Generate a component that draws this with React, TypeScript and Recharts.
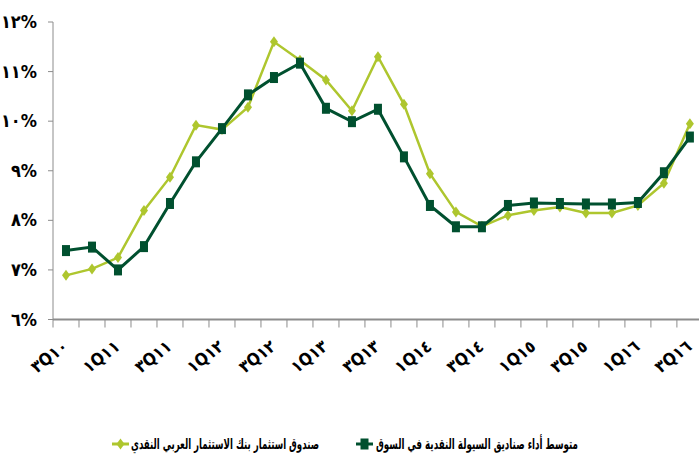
import React from 'react';
import { LineChart, Line, XAxis, YAxis, Legend } from 'recharts';

const quarters = ['٣Q١٠','٤Q١٠','١Q١١','٢Q١١','٣Q١١','٤Q١١','١Q١٢','٢Q١٢','٣Q١٢','٤Q١٢','١Q١٣','٢Q١٣','٣Q١٣','٤Q١٣','١Q١٤','٢Q١٤','٣Q١٤','٤Q١٤','١Q١٥','٢Q١٥','٣Q١٥','٤Q١٥','١Q١٦','٢Q١٦','٣Q١٦'];
const fundValues = [6.89,7.02,7.25,8.20,8.87,9.92,9.83,10.28,11.60,11.23,10.83,10.21,11.30,10.34,8.94,8.17,7.88,8.10,8.20,8.27,8.15,8.15,8.30,8.75,9.95];
const marketValues = [7.39,7.46,7.00,7.47,8.34,9.18,9.85,10.53,10.88,11.17,10.26,9.99,10.24,9.28,8.30,7.87,7.87,8.30,8.35,8.34,8.33,8.33,8.36,8.96,9.68];
const yTicks = [6,7,8,9,10,11,12];
const yTickLabels = ['٦%','٧%','٨%','٩%','١٠%','١١%','١٢%'];
const fundName = 'صندوق استثمار بنك الاستثمار العربي النقدي';
const marketName = 'متوسط أداء صناديق السيولة النقدية في السوق';

const DARK = '#00502F';
const LIGHT = '#AEC62E';
const AXIS = '#8C8C8C';
const FONT = '"Liberation Sans Narrow", "DejaVu Sans Condensed", "DejaVu Sans", sans-serif';

const data = quarters.map((q, i) => ({ i, q, fund: fundValues[i], market: marketValues[i] }));

const xTicks: number[] = [];
for (let k = 0; k < quarters.length; k++) {
  xTicks.push(k - 0.5);
  if (k % 2 === 0) xTicks.push(k);
}

const XTick = (props: any) => {
  const { x, y, payload } = props;
  const v = payload.value;
  if (!Number.isInteger(v)) {
    return <line x1={x} x2={x} y1={y} y2={y + 8} stroke={AXIS} strokeWidth={1} />;
  }
  const ax = x + 3;
  const ay = y + 29;
  return (
    <text x={ax} y={ay} transform={`rotate(-38 ${ax} ${ay})`} textAnchor="end"
      fontFamily={FONT} fontWeight="bold" fontSize={17} fill="#000">
      {quarters[v]}
    </text>
  );
};

const YTick = (props: any) => {
  const { x, y, payload } = props;
  const idx = yTicks.indexOf(payload.value);
  return (
    <text x={x} y={y + 6} textAnchor="end" fontFamily={FONT} fontWeight="bold" fontSize={18} fill="#000">
      {yTickLabels[idx]}
    </text>
  );
};

const SquareDot = (props: any) => {
  const { cx, cy } = props;
  if (cx == null || cy == null) return null;
  return <rect x={cx - 4} y={cy - 5.5} width={8} height={11} fill={DARK} />;
};

const DiamondDot = (props: any) => {
  const { cx, cy } = props;
  if (cx == null || cy == null) return null;
  return <path d={`M${cx},${cy - 5.5} L${cx + 4},${cy} L${cx},${cy + 5.5} L${cx - 4},${cy} Z`} fill={LIGHT} />;
};

const LegendContent = () => (
  <svg width={699} height={24} style={{ display: 'block' }}>
    <line x1={112} x2={129} y1={11} y2={11} stroke={LIGHT} strokeWidth={3} />
    <path d="M120.5,5.5 L124.5,11 L120.5,16.5 L116.5,11 Z" fill={LIGHT} />
    <text x={131} y={0} transform="translate(0 16) scale(1 1.35)" textLength={188} lengthAdjust="spacingAndGlyphs"
      fontFamily="'DejaVu Sans', sans-serif" fontWeight="bold" fontSize={11} fill="#000">{fundName}</text>
    <line x1={356} x2={373} y1={11} y2={11} stroke={DARK} strokeWidth={3} />
    <rect x={360.5} y={5.5} width={8} height={11} fill={DARK} />
    <text x={376} y={0} transform="translate(0 16) scale(1 1.35)" textLength={202} lengthAdjust="spacingAndGlyphs"
      fontFamily="'DejaVu Sans', sans-serif" fontWeight="bold" fontSize={11} fill="#000">{marketName}</text>
  </svg>
);

export default function App() {
  return (
    <div style={{ position: 'absolute', left: 0, top: 0, width: 699, height: 464, background: '#fff' }}>
      <LineChart width={699} height={464} data={data} margin={{ top: 22, right: 0, bottom: 0, left: 0 }}>
        <XAxis
          dataKey="i"
          type="number"
          domain={[-0.5, 24.35]}
          allowDataOverflow
          ticks={xTicks}
          interval={0}
          tick={<XTick />}
          tickLine={false}
          tickSize={0}
          tickMargin={0}
          axisLine={{ stroke: AXIS, strokeWidth: 2 }}
          height={144.5}
        />
        <YAxis
          type="number"
          domain={[6, 12]}
          ticks={yTicks}
          interval={0}
          width={53}
          tick={<YTick />}
          tickSize={5}
          tickMargin={11}
          tickLine={{ stroke: AXIS }}
          axisLine={{ stroke: AXIS, strokeWidth: 1 }}
        />
        <Legend
          verticalAlign="middle"
          layout="horizontal"
          align="center"
          wrapperStyle={{ position: 'absolute', top: 433, left: 0, width: 699, height: 24 }}
          content={<LegendContent />}
        />
        <Line dataKey="fund" name={fundName} stroke={LIGHT} strokeWidth={2.5} dot={<DiamondDot />} activeDot={false} isAnimationActive={false} />
        <Line dataKey="market" name={marketName} stroke={DARK} strokeWidth={3} dot={<SquareDot />} activeDot={false} isAnimationActive={false} />
      </LineChart>
    </div>
  );
}
